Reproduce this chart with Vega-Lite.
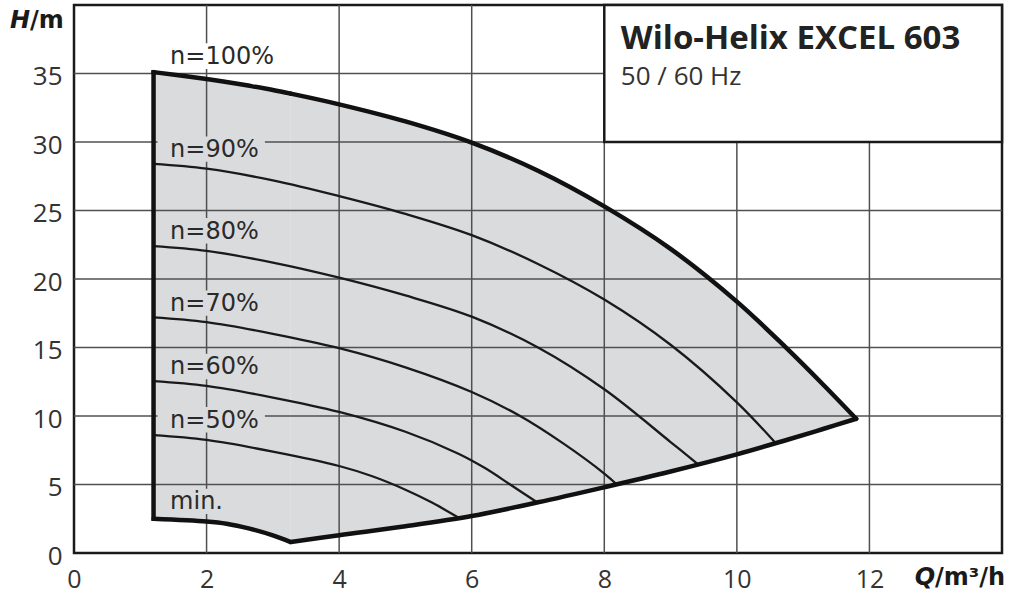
{
  "$schema": "https://vega.github.io/schema/vega-lite/v6.json",
  "width": 928,
  "height": 548,
  "autosize": {"type": "none"},
  "padding": {"left": 74, "top": 5, "right": 7, "bottom": 42},
  "background": "white",
  "config": {
    "view": {"stroke": "#1a1a1a", "strokeWidth": 2.5},
    "axis": {"grid": false, "ticks": false, "domain": false, "labelFont": "Open Sans", "labelFontSize": 26,
      "labelColor": "#333333", "labelFlush": false, "labelOverlap": false},
    "axisX": {"labelPadding": 14, "labelFontSize": 25},
    "axisY": {"labelPadding": 12, "labelOffset": 3}
  },
  "datasets": {
    "region": [
      {"seg": "A", "q": 1.2, "top": 35.1, "bot": 2.5},
      {"seg": "A", "q": 2.0, "top": 34.6, "bot": 2.3},
      {"seg": "A", "q": 2.3, "top": 34.38, "bot": 2.14},
      {"seg": "A", "q": 2.65, "top": 34.1, "bot": 1.78},
      {"seg": "A", "q": 3.0, "top": 33.8, "bot": 1.29},
      {"seg": "A", "q": 3.27, "top": 33.53, "bot": 0.8},
      {"seg": "B", "q": 3.27, "top": 33.53, "bot": 0.8},
      {"seg": "B", "q": 4.0, "top": 32.75, "bot": 1.3},
      {"seg": "B", "q": 5.0, "top": 31.5, "bot": 1.95},
      {"seg": "B", "q": 6.0, "top": 29.95, "bot": 2.7},
      {"seg": "B", "q": 7.0, "top": 27.9, "bot": 3.7},
      {"seg": "B", "q": 8.0, "top": 25.3, "bot": 4.8},
      {"seg": "B", "q": 9.0, "top": 22.2, "bot": 5.95},
      {"seg": "B", "q": 10.0, "top": 18.35, "bot": 7.2},
      {"seg": "B", "q": 10.75, "top": 14.95, "bot": 8.25},
      {"seg": "B", "q": 11.3, "top": 12.3, "bot": 9.05},
      {"seg": "B", "q": 11.8, "top": 9.8, "bot": 9.8}
    ],
    "speeds": [
      {"n": 90, "q": 1.2, "h": 28.4}, {"n": 90, "q": 2, "h": 28.05}, {"n": 90, "q": 3, "h": 27.2},
      {"n": 90, "q": 4, "h": 26.05}, {"n": 90, "q": 5, "h": 24.75}, {"n": 90, "q": 6, "h": 23.2},
      {"n": 90, "q": 7, "h": 21.1}, {"n": 90, "q": 8, "h": 18.5}, {"n": 90, "q": 9, "h": 15.2},
      {"n": 90, "q": 10, "h": 11.0}, {"n": 90, "q": 10.57, "h": 8.1},
      {"n": 80, "q": 1.2, "h": 22.4}, {"n": 80, "q": 2, "h": 22.05}, {"n": 80, "q": 3, "h": 21.2},
      {"n": 80, "q": 4, "h": 20.1}, {"n": 80, "q": 5, "h": 18.8}, {"n": 80, "q": 6, "h": 17.25},
      {"n": 80, "q": 7, "h": 15.0}, {"n": 80, "q": 8, "h": 11.95}, {"n": 80, "q": 9, "h": 8.1},
      {"n": 80, "q": 9.42, "h": 6.45},
      {"n": 70, "q": 1.2, "h": 17.2}, {"n": 70, "q": 2, "h": 16.85}, {"n": 70, "q": 3, "h": 16.0},
      {"n": 70, "q": 4, "h": 14.95}, {"n": 70, "q": 5, "h": 13.55}, {"n": 70, "q": 6, "h": 11.75},
      {"n": 70, "q": 6.73, "h": 10.0}, {"n": 70, "q": 7.38, "h": 8.0}, {"n": 70, "q": 8, "h": 5.8},
      {"n": 70, "q": 8.19, "h": 5.0},
      {"n": 60, "q": 1.2, "h": 12.55}, {"n": 60, "q": 2, "h": 12.2}, {"n": 60, "q": 3, "h": 11.35},
      {"n": 60, "q": 4, "h": 10.3}, {"n": 60, "q": 5, "h": 8.85}, {"n": 60, "q": 5.8, "h": 7.25},
      {"n": 60, "q": 6.2, "h": 6.2}, {"n": 60, "q": 6.58, "h": 5.0}, {"n": 60, "q": 6.98, "h": 3.72},
      {"n": 50, "q": 1.2, "h": 8.6}, {"n": 50, "q": 2, "h": 8.25}, {"n": 50, "q": 3, "h": 7.4},
      {"n": 50, "q": 4, "h": 6.35}, {"n": 50, "q": 4.5, "h": 5.6}, {"n": 50, "q": 5, "h": 4.62},
      {"n": 50, "q": 5.4, "h": 3.68}, {"n": 50, "q": 5.81, "h": 2.55}
    ],
    "gridV": [
      {"q": 2, "h1": 0, "h2": 40}, {"q": 4, "h1": 0, "h2": 40}, {"q": 6, "h1": 0, "h2": 40},
      {"q": 8, "h1": 0, "h2": 40}, {"q": 10, "h1": 0, "h2": 30}, {"q": 12, "h1": 0, "h2": 30}
    ],
    "gridH": [
      {"h": 5, "q1": 0, "q2": 14}, {"h": 10, "q1": 0, "q2": 14}, {"h": 15, "q1": 0, "q2": 14},
      {"h": 20, "q1": 0, "q2": 14}, {"h": 25, "q1": 0, "q2": 14}, {"h": 30, "q1": 0, "q2": 14},
      {"h": 35, "q1": 0, "q2": 8}
    ],
    "box": [{"q1": 8, "q2": 14, "h1": 30, "h2": 40}],
    "labels": [
      {"label": "n=100%", "q": 1.45, "h": 35.67, "bq1": 1.3, "bq2": 3.11, "bh1": 35.32, "bh2": 37.2},
      {"label": "n=90%", "q": 1.45, "h": 28.9, "bq1": 1.26, "bq2": 2.88, "bh1": 28.55, "bh2": 30.4},
      {"label": "n=80%", "q": 1.45, "h": 22.95, "bq1": 1.26, "bq2": 2.88, "bh1": 22.6, "bh2": 24.45},
      {"label": "n=70%", "q": 1.45, "h": 17.66, "bq1": 1.26, "bq2": 2.88, "bh1": 17.31, "bh2": 19.16},
      {"label": "n=60%", "q": 1.45, "h": 13.04, "bq1": 1.26, "bq2": 2.88, "bh1": 12.69, "bh2": 14.54},
      {"label": "n=50%", "q": 1.45, "h": 9.15, "bq1": 1.26, "bq2": 2.88, "bh1": 8.8, "bh2": 10.65},
      {"label": "min.", "q": 1.45, "h": 3.19, "bq1": 1.26, "bq2": 2.28, "bh1": 2.84, "bh2": 4.69}
    ],
    "heading": [
      {"title": "Wilo-Helix EXCEL 603", "sub": "50 / 60 Hz", "q": 8.25, "h": 36.82, "hs": 34.14}
    ],
    "axisTitles": [
      {"main": "H", "rest": "/m", "q": -0.664, "h": 38.3},
      {"main": "Q", "rest": "/m³/h", "q": 12.99, "h": -2.36}
    ]
  },
  "layer": [
    {
      "data": {"name": "region"},
      "mark": {"type": "area", "interpolate": "catmull-rom", "fill": "#dadbdd"},
      "encoding": {
        "x": {"field": "q", "type": "quantitative", "title": null,
          "scale": {"domain": [0, 14], "nice": false, "zero": false},
          "axis": {"values": [0, 2, 4, 6, 8, 10, 12], "format": "d", "title": null}},
        "y": {"field": "top", "type": "quantitative", "stack": null, "title": null,
          "scale": {"domain": [0, 40], "nice": false},
          "axis": {"values": [0, 5, 10, 15, 20, 25, 30, 35], "format": "d", "title": null}},
        "y2": {"field": "bot"},
        "detail": {"field": "seg"}
      }
    },
    {
      "data": {"name": "gridV"},
      "mark": {"type": "rule", "stroke": "#505050", "strokeWidth": 1.5},
      "encoding": {
        "x": {"field": "q", "type": "quantitative", "title": null},
        "y": {"field": "h1", "type": "quantitative", "title": null},
        "y2": {"field": "h2"}
      }
    },
    {
      "data": {"name": "gridH"},
      "mark": {"type": "rule", "stroke": "#505050", "strokeWidth": 1.5},
      "encoding": {
        "y": {"field": "h", "type": "quantitative", "title": null},
        "x": {"field": "q1", "type": "quantitative", "title": null},
        "x2": {"field": "q2"}
      }
    },
    {
      "data": {"name": "box"},
      "mark": {"type": "rect", "fill": "white", "stroke": "#1a1a1a", "strokeWidth": 2.5},
      "encoding": {
        "x": {"field": "q1", "type": "quantitative", "title": null},
        "x2": {"field": "q2"},
        "y": {"field": "h1", "type": "quantitative", "title": null},
        "y2": {"field": "h2"}
      }
    },
    {
      "data": {"name": "labels"},
      "transform": [{"filter": "datum.label !== 'n=100%'"}],
      "mark": {"type": "rect", "fill": "#dadbdd"},
      "encoding": {
        "x": {"field": "bq1", "type": "quantitative", "title": null},
        "x2": {"field": "bq2"},
        "y": {"field": "bh1", "type": "quantitative", "title": null},
        "y2": {"field": "bh2"}
      }
    },
    {
      "data": {"name": "labels"},
      "transform": [{"filter": "datum.label === 'n=100%'"}],
      "mark": {"type": "rect", "fill": "white"},
      "encoding": {
        "x": {"field": "bq1", "type": "quantitative", "title": null},
        "x2": {"field": "bq2"},
        "y": {"field": "bh1", "type": "quantitative", "title": null},
        "y2": {"field": "bh2"}
      }
    },
    {
      "data": {"name": "speeds"},
      "mark": {"type": "line", "interpolate": "catmull-rom", "stroke": "#1a1a1a", "strokeWidth": 2.3},
      "encoding": {
        "x": {"field": "q", "type": "quantitative", "title": null},
        "y": {"field": "h", "type": "quantitative", "title": null},
        "detail": {"field": "n"}
      }
    },
    {
      "data": {"name": "region"},
      "mark": {"type": "line", "interpolate": "catmull-rom", "stroke": "#111111", "strokeWidth": 4.5, "strokeCap": "round", "strokeJoin": "round"},
      "encoding": {
        "x": {"field": "q", "type": "quantitative", "title": null},
        "y": {"field": "top", "type": "quantitative", "title": null},
        "detail": {"field": "seg"}
      }
    },
    {
      "data": {"name": "region"},
      "mark": {"type": "line", "interpolate": "catmull-rom", "stroke": "#111111", "strokeWidth": 4.5, "strokeCap": "round", "strokeJoin": "round"},
      "encoding": {
        "x": {"field": "q", "type": "quantitative", "title": null},
        "y": {"field": "bot", "type": "quantitative", "title": null},
        "detail": {"field": "seg"}
      }
    },
    {
      "data": {"name": "region"},
      "transform": [{"filter": "datum.seg === 'A' && datum.q === 1.2"}],
      "mark": {"type": "rule", "stroke": "#111111", "strokeWidth": 4.5, "strokeCap": "square"},
      "encoding": {
        "x": {"field": "q", "type": "quantitative", "title": null},
        "y": {"field": "bot", "type": "quantitative", "title": null},
        "y2": {"field": "top"}
      }
    },
    {
      "data": {"name": "labels"},
      "mark": {"type": "text", "font": "DejaVu Sans", "fontSize": 24, "fill": "#2a2a2a", "align": "left", "baseline": "alphabetic"},
      "encoding": {
        "x": {"field": "q", "type": "quantitative", "title": null},
        "y": {"field": "h", "type": "quantitative", "title": null},
        "text": {"field": "label"}
      }
    },
    {
      "data": {"name": "heading"},
      "mark": {"type": "text", "font": "Open Sans", "fontSize": 33, "fontWeight": "bold", "fill": "#222222", "align": "left", "baseline": "alphabetic"},
      "encoding": {
        "x": {"field": "q", "type": "quantitative", "title": null},
        "y": {"field": "h", "type": "quantitative", "title": null},
        "text": {"field": "title"}
      }
    },
    {
      "data": {"name": "heading"},
      "mark": {"type": "text", "font": "Open Sans", "fontSize": 26, "fill": "#333333", "align": "left", "baseline": "alphabetic"},
      "encoding": {
        "x": {"field": "q", "type": "quantitative", "title": null},
        "y": {"field": "hs", "type": "quantitative", "title": null},
        "text": {"field": "sub"}
      }
    },
    {
      "data": {"name": "axisTitles"},
      "mark": {"type": "text", "font": "DejaVu Sans", "fontSize": 24, "fontWeight": "bold", "fontStyle": "italic", "fill": "#1a1a1a", "align": "right", "baseline": "alphabetic"},
      "encoding": {
        "x": {"field": "q", "type": "quantitative", "title": null},
        "y": {"field": "h", "type": "quantitative", "title": null},
        "text": {"field": "main"}
      }
    },
    {
      "data": {"name": "axisTitles"},
      "mark": {"type": "text", "font": "DejaVu Sans", "fontSize": 24, "fontWeight": "bold", "fill": "#1a1a1a", "align": "left", "baseline": "alphabetic"},
      "encoding": {
        "x": {"field": "q", "type": "quantitative", "title": null},
        "y": {"field": "h", "type": "quantitative", "title": null},
        "text": {"field": "rest"}
      }
    }
  ]
}
